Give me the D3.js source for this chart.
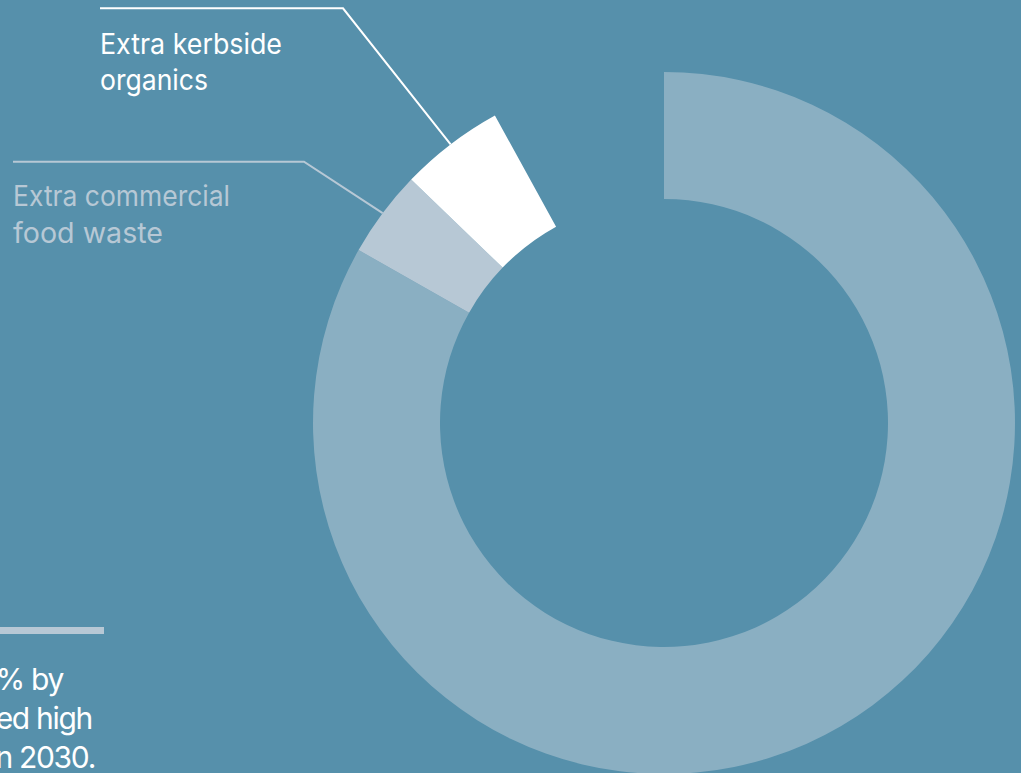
<!DOCTYPE html>
<html>
<head>
<meta charset="utf-8">
<script src="https://cdn.jsdelivr.net/npm/d3@7"></script>
<style>
  html, body { margin: 0; padding: 0; background: #5690ab; overflow: hidden; }
  svg { display: block; }
  text { font-family: Inter, "Noto Sans", sans-serif; }
</style>
</head>
<body>
<svg id="chart"></svg>
<script>
// shares of the ring, clockwise from 12 o'clock (last one is left empty)
const categories = ["Baseline organics", "Extra commercial food waste", "Extra kerbside organics", "Remaining"];
const shares = [83.2, 4.0, 4.8, 8.0];
const colours = ["#8aafc2", "#b7c8d5", "#ffffff", "none"];

// callout labels
const calloutLabels = [
    {index: 1, lines: ["Extra commercial", "food waste"], colour: "#b7c8d5"},
    {index: 2, lines: ["Extra kerbside", "organics"], colour: "#ffffff"}
];

// note text in the lower left (cut off by the frame, as in the original)
const noteLines = ["% by", "ed high", "n 2030."];

const width = 1021, height = 773;
const cx = 664, cy = 423;
const outerR = 351, innerR = 224;

const svg = d3.select("#chart")
    .attr("width", width)
    .attr("height", height);

const pie = d3.pie()
    .sort(null)
    .value(d => d)
    .startAngle(0)
    .endAngle(2 * Math.PI);

const arcs = pie(shares);

const arc = d3.arc()
    .innerRadius(innerR)
    .outerRadius(outerR);

const edge = d3.arc()
    .innerRadius(outerR)
    .outerRadius(outerR);

const ring = svg.append("g")
    .attr("transform", `translate(${cx},${cy})`);

ring.selectAll("path")
    .data(arcs)
    .join("path")
    .attr("d", arc)
    .attr("fill", (d, i) => colours[i]);

// callouts: leader line from the outer edge to a horizontal rule above the label
const calloutPos = {
    1: {x: 13, ruleY: 161.7, ruleEnd: 304, base: 206, widths: [217, 150]},
    2: {x: 100, ruleY: 8.3, ruleEnd: 343, base: 53.5, widths: [182, 108]}
};

calloutLabels.forEach(c => {
    const p = calloutPos[c.index];
    const [ex, ey] = edge.centroid(arcs[c.index]);
    const g = svg.append("g");

    g.append("polyline")
        .attr("points", [[p.x, p.ruleY], [p.ruleEnd, p.ruleY], [cx + ex, cy + ey]].join(" "))
        .attr("fill", "none")
        .attr("stroke", c.colour)
        .attr("stroke-width", 2);

    g.selectAll("text")
        .data(c.lines)
        .join("text")
        .attr("x", p.x)
        .attr("y", (d, i) => p.base + i * 36.5)
        .attr("fill", c.colour)
        .attr("font-size", 28.5)
        .attr("textLength", (d, i) => p.widths[i])
        .attr("lengthAdjust", "spacingAndGlyphs")
        .text(d => d);
});

// note block
svg.append("rect")
    .attr("x", 0)
    .attr("y", 627)
    .attr("width", 104)
    .attr("height", 7)
    .attr("fill", "#b7c8d5");

const noteRight = [63, 92, 95];
svg.append("g")
    .selectAll("text")
    .data(noteLines)
    .join("text")
    .attr("x", (d, i) => noteRight[i])
    .attr("y", (d, i) => 690 + i * 39)
    .attr("text-anchor", "end")
    .attr("fill", "#ffffff")
    .attr("font-size", 30)
    .attr("letter-spacing", -1.3)
    .text(d => d);
</script>
</body>
</html>
